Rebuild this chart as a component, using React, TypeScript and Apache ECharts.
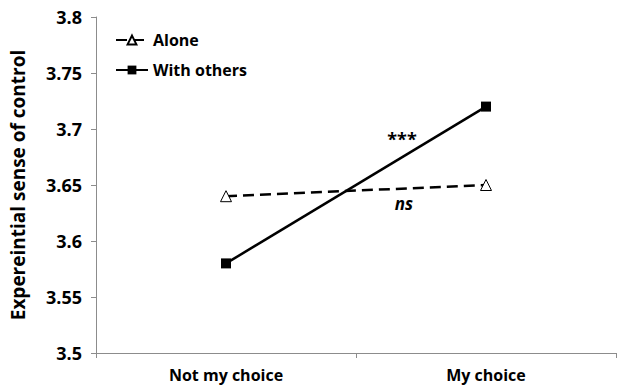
import React, { useEffect, useRef } from "react";
import * as echarts from "echarts";

const categories = ["Not my choice", "My choice"];
const aloneValues = [3.64, 3.65];
const withOthersValues = [3.58, 3.72];
const yMin = 3.5;
const yMax = 3.8;
const yStep = 0.05;

const FONT = "'Open Sans', 'Noto Sans', sans-serif";
const AXIS_GRAY = "#8c8c8c";

export default function App() {
  const ref = useRef<HTMLDivElement>(null);

  useEffect(() => {
    if (!ref.current) return;
    const chart = echarts.init(ref.current, null, { renderer: "svg" });
    chart.setOption({
      animation: false,
      backgroundColor: "#ffffff",
      textStyle: { fontFamily: FONT },
      grid: { left: 92, right: 1, top: 17, bottom: 36 },
      legend: {
        orient: "vertical",
        left: 110,
        top: 27,
        itemWidth: 32,
        itemHeight: 11,
        itemGap: 14,
        textStyle: { fontFamily: FONT, fontWeight: "bold", fontSize: 16, color: "#000" },
        data: ["Alone", "With others"],
      },
      xAxis: {
        type: "category",
        data: categories,
        boundaryGap: true,
        axisLine: { lineStyle: { color: AXIS_GRAY, width: 1 } },
        axisTick: { show: true, length: 5, lineStyle: { color: AXIS_GRAY } },
        axisLabel: {
          margin: 14,
          fontFamily: FONT,
          fontWeight: "bold",
          fontSize: 16,
          color: "#000",
        },
        splitLine: { show: false },
      },
      yAxis: {
        type: "value",
        min: yMin,
        max: yMax,
        interval: yStep,
        name: "Expereintial sense of control",
        nameLocation: "middle",
        nameRotate: 90,
        nameGap: 69,
        nameTextStyle: { fontFamily: FONT, fontWeight: "bold", fontSize: 19, color: "#000" },
        axisLine: { show: true, lineStyle: { color: AXIS_GRAY, width: 1 } },
        axisTick: { show: true, length: 5, lineStyle: { color: AXIS_GRAY } },
        axisLabel: {
          margin: 14,
          fontFamily: FONT,
          fontWeight: "bold",
          fontSize: 18,
          color: "#000",
          formatter: (v: number) => String(parseFloat(v.toFixed(2))),
        },
        splitLine: { show: false },
      },
      series: [
        {
          name: "Alone",
          type: "line",
          data: aloneValues,
          symbol: "triangle",
          symbolSize: 11,
          itemStyle: { color: "#ffffff", borderColor: "#000", borderWidth: 1 },
          lineStyle: { color: "#000", width: 2.5, type: [11, 6] },
          z: 2,
        },
        {
          name: "With others",
          type: "line",
          data: withOthersValues,
          symbol: "rect",
          symbolSize: 10,
          itemStyle: { color: "#000", borderColor: "#000", borderWidth: 0 },
          lineStyle: { color: "#000", width: 2.5, type: "solid" },
          z: 3,
        },
      ],
      graphic: [
        {
          type: "text",
          x: 402,
          y: 139,
          style: {
            text: "***",
            fontFamily: FONT,
            fontWeight: "bold",
            fontSize: 18,
            fill: "#000",
            textAlign: "center",
            textVerticalAlign: "middle",
          },
        },
        {
          type: "text",
          x: 404,
          y: 203,
          style: {
            text: "ns",
            fontFamily: FONT,
            fontWeight: "bold",
            fontStyle: "italic",
            fontSize: 17,
            fill: "#000",
            textAlign: "center",
            textVerticalAlign: "middle",
          },
        },
      ],
    });
    return () => chart.dispose();
  }, []);

  return <div ref={ref} style={{ width: 617, height: 389, position: "absolute", left: 0, top: 0 }} />;
}
